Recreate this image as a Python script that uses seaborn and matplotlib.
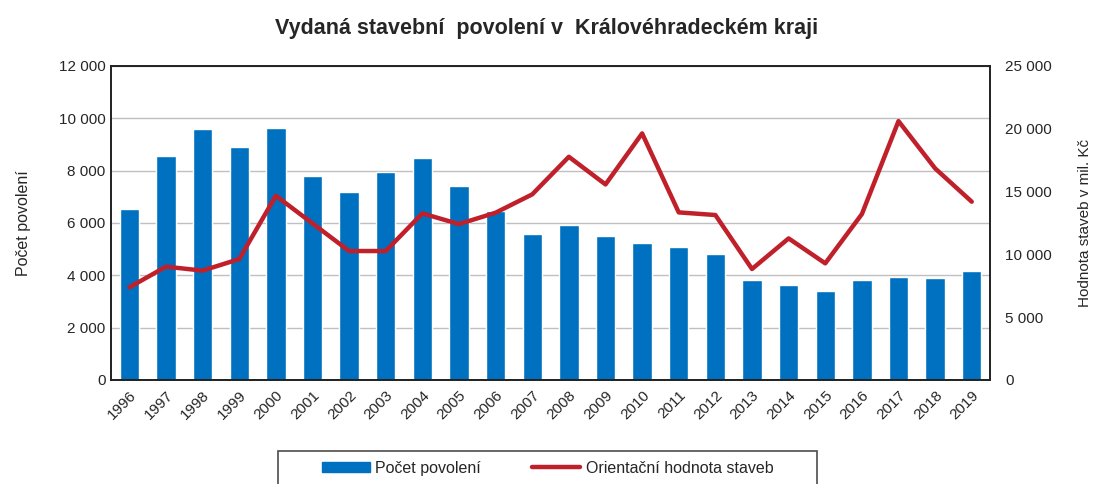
#!/usr/bin/env python3

import numpy as np
import matplotlib
matplotlib.use('Agg')
import matplotlib.pyplot as plt
from matplotlib.patches import Patch
from matplotlib.lines import Line2D
import pandas as pd
import seaborn as sns

SET_DPI = 100
FIGSIZE = (10.94, 4.84)

years = [str(y) for y in range(1996, 2020)]
povoleni = [6515, 8540, 9570, 8880, 9635, 7800, 7190, 7930, 8475, 7395, 6450, 5560,
            5915, 5500, 5215, 5090, 4825, 3820, 3615, 3400, 3820, 3945, 3880, 4150]
hodnota = [7370, 9015, 8700, 9620, 14660, 12460, 10260, 10260, 13255, 12405, 13310, 14770,
           17760, 15560, 19620, 13335, 13125, 8830, 11265, 9280, 13200, 20600, 16835, 14185]

left_ticks = [0, 2000, 4000, 6000, 8000, 10000, 12000]
right_ticks = [0, 5000, 10000, 15000, 20000, 25000]

BLUE = '#0070C0'
RED = '#C0202A'

sns.set_style('white')
plt.rcParams['font.family'] = ['Liberation Sans', 'DejaVu Sans']


def fmt(v):
    return f'{v:,}'.replace(',', '\u00a0')


data = pd.DataFrame({'rok': years, 'povoleni': povoleni, 'hodnota': hodnota})
data['pos'] = np.arange(len(years))

fig = plt.figure(figsize=FIGSIZE, dpi=SET_DPI)
ax = fig.add_axes([0.1015, 0.215, 0.8035, 0.649])

sns.barplot(data=data, x='rok', y='povoleni', color=BLUE, saturation=1, width=0.53, ax=ax)
ax.set_xlim(-0.5, len(years) - 0.5)
ax.set_ylim(0, 12000)
ax.set_yticks(left_ticks)
ax.set_yticklabels([fmt(v) for v in left_ticks], fontsize=11)
ax.yaxis.grid(True, color='#C0C0C0', linewidth=1)
ax.set_axisbelow(True)
ax.set_xlabel('')
ax.set_ylabel('Počet povolení', fontsize=11.5, labelpad=20)
ax.set_xticks(range(len(years)))
ax.set_xticklabels(years, rotation=45, ha='right', rotation_mode='anchor', fontsize=11)
ax.tick_params(axis='y', length=0, pad=4)
ax.tick_params(axis='x', length=0, pad=6)
for s in ax.spines.values():
    s.set_color('#202020')
    s.set_linewidth(1.2)

ax2 = ax.twinx()
sns.lineplot(data=data, x='pos', y='hodnota', color=RED, linewidth=3.2, ax=ax2)
ax2.set_ylim(0, 25000)
ax2.set_yticks(right_ticks)
ax2.set_yticklabels([fmt(v) for v in right_ticks], fontsize=11)
ax2.set_ylabel('Hodnota staveb v mil. Kč', fontsize=11, labelpad=19)
ax2.tick_params(axis='y', length=0, pad=11)
ax2.set_xlim(-0.5, len(years) - 0.5)
ax2.grid(False)
for s in ax2.spines.values():
    s.set_color('#202020')
    s.set_linewidth(1.2)

fig.suptitle('Vydaná stavební  povolení v  Královéhradeckém kraji', fontsize=15.5,
             fontweight='bold', y=0.962)

handles = [Patch(facecolor=BLUE, edgecolor=BLUE),
           Line2D([0], [0], color=RED, linewidth=3.2)]
leg = fig.legend(handles, ['Počet povolení', 'Orientační hodnota staveb'],
                 loc='upper center', bbox_to_anchor=(0.5005, 0.068), ncol=2,
                 frameon=True, fancybox=False, edgecolor='#202020', fontsize=11.5,
                 handlelength=3.0, handleheight=0.6, handletextpad=0.35,
                 columnspacing=3.2, borderpad=0.6, borderaxespad=0)
leg.get_frame().set_linewidth(1.2)
leg.get_frame().set_boxstyle('square', pad=0)
leg._legend_box.set_width(520)

plt.savefig('out.png', dpi=SET_DPI)
plt.close()
